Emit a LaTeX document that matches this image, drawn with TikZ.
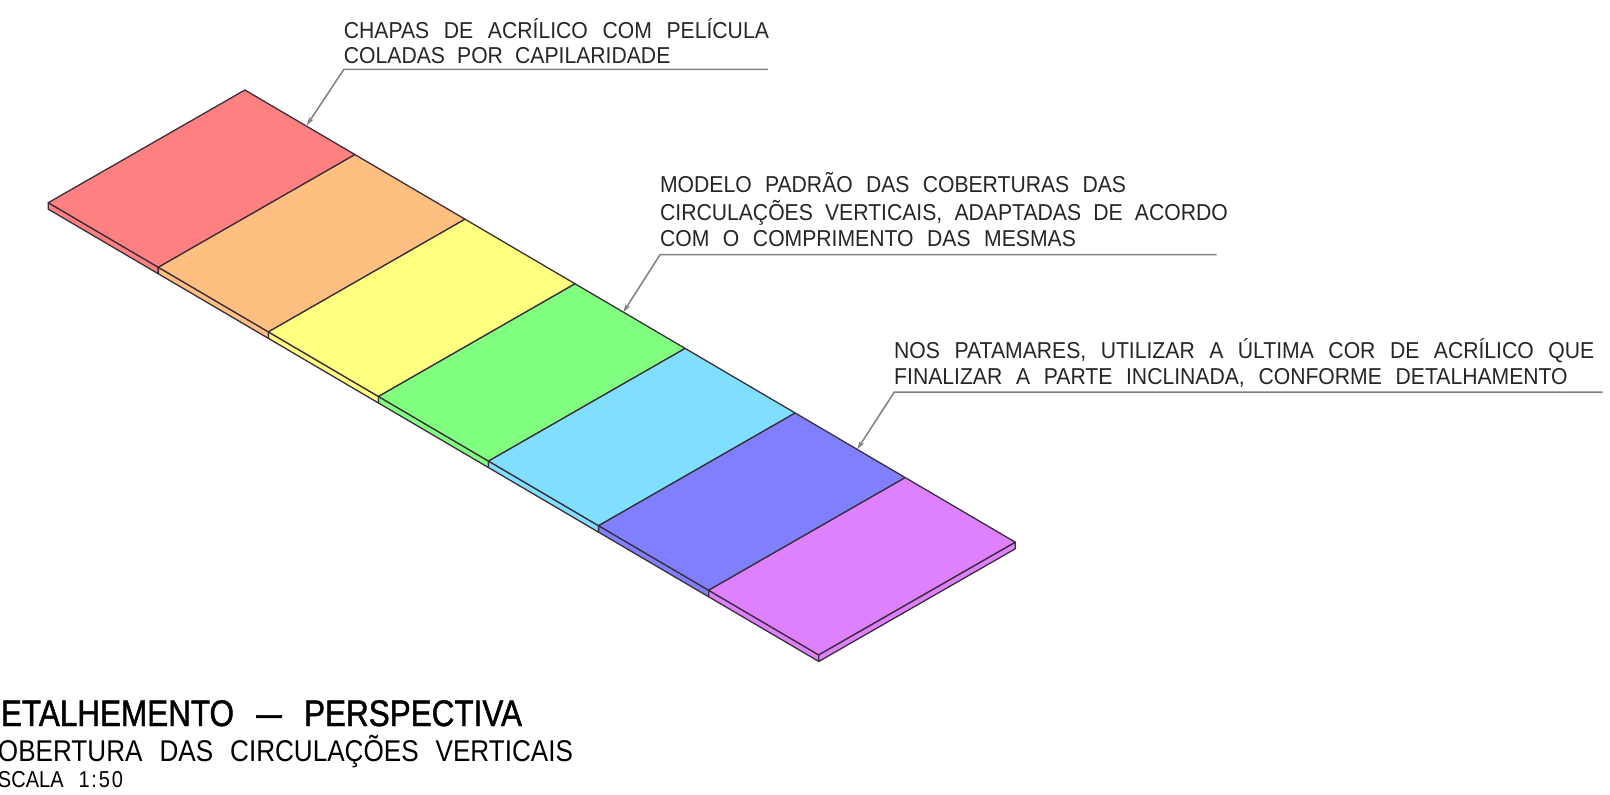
\documentclass[tikz,border=0pt]{standalone}
\usepackage{fontspec}
\setmainfont[FakeStretch=0.92]{Liberation Sans}
\newfontfamily\titlefont[FakeStretch=0.85,FakeBold=1.2]{Liberation Sans}
\newfontfamily\subfont[FakeStretch=0.87]{Liberation Sans}
\usetikzlibrary{arrows.meta,calc}
\hbadness=10000
\hfuzz=50pt
\definecolor{cRed}{HTML}{FF8080}
\definecolor{cOrange}{HTML}{FFBF80}
\definecolor{cYellow}{HTML}{FFFF80}
\definecolor{cGreen}{HTML}{80FF80}
\definecolor{cCyan}{HTML}{80DFFF}
\definecolor{cBlue}{HTML}{8080FF}
\definecolor{cViolet}{HTML}{DF80FF}
\definecolor{edgeink}{HTML}{3A2F3A}
\definecolor{leaderink}{HTML}{808080}
\tikzset{
  x=1pt,y=-1pt,
  face/.style={draw=edgeink,line width=1.3pt,line join=round},
  leader/.style={draw=leaderink,line width=1.5pt,line join=round,-{Stealth[length=9pt,width=5pt]}},
  note/.style={anchor=base west,inner sep=0pt,outer sep=0pt,font=\fontsize{23}{23}\selectfont,text=black!85},
  titleA/.style={anchor=base west,inner sep=0pt,outer sep=0pt,font=\titlefont\fontsize{37}{37}\selectfont},
  titleB/.style={anchor=base west,inner sep=0pt,outer sep=0pt,font=\subfont\fontsize{30}{30}\selectfont},
  titleC/.style={anchor=base west,inner sep=0pt,outer sep=0pt,font=\subfont\fontsize{23}{23}\selectfont},
}
\newcommand{\fitline}[2]{\makebox[#1pt][s]{#2}}
\begin{document}
\begin{tikzpicture}
\clip (0,0) rectangle (1610,795);
\fill[white] (0,0) rectangle (1610,795);
% panels
\foreach \i/\c in {0/cRed,1/cOrange,2/cYellow,3/cGreen,4/cCyan,5/cBlue,6/cViolet}{
  \pgfmathsetmacro{\xa}{48.3+110.06*\i}
  \pgfmathsetmacro{\ya}{202.7+64.6*\i}
  \pgfmathsetmacro{\xb}{\xa+110.06}
  \pgfmathsetmacro{\yb}{\ya+64.6}
  \filldraw[face,fill=\c] (\xa,\ya) -- (\xb,\yb) -- (\xb,\yb+6.5) -- (\xa,\ya+6.5) -- cycle;
  \filldraw[face,fill=\c] (\xa,\ya) -- (\xb,\yb) -- (\xb+196.6,\yb-112.7) -- (\xa+196.6,\ya-112.7) -- cycle;
}
\filldraw[face,fill=cViolet] (818.7,655) -- (1015.3,542.3) -- (1015.3,548.8) -- (818.7,661.5) -- cycle;
% leader ends
\coordinate (t1) at (306.6,125.6);
\coordinate (b1) at (343.9,69.3);
\coordinate (e1) at (767.9,69.3);
\coordinate (t2) at (623.2,312.4);
\coordinate (b2) at (660.1,254.6);
\coordinate (e2) at (1216.5,254.6);
\coordinate (t3) at (857.2,449.4);
\coordinate (b3) at (894.2,392.2);
\coordinate (e3) at (1602.6,392.2);
\draw[leader] (e1) -- (b1) -- (t1);
\draw[leader] (e2) -- (b2) -- (t2);
\draw[leader] (e3) -- (b3) -- (t3);
% notes
\node[note] (n1a) at (343.9,38) {\fitline{425}{CHAPAS DE ACRÍLICO COM PELÍCULA}};
\node[note] (n1b) at (343.9,63.5) {\fitline{326.5}{COLADAS POR CAPILARIDADE}};
\node[note] (n2a) at (660.1,192) {\fitline{466}{MODELO PADRÃO DAS COBERTURAS DAS}};
\node[note] (n2b) at (660.1,220.5) {\fitline{567.7}{CIRCULAÇÕES VERTICAIS, ADAPTADAS DE ACORDO}};
\node[note] (n2c) at (660.1,246.5) {\fitline{415.8}{COM O COMPRIMENTO DAS MESMAS}};
\node[note] (n3a) at (894.2,358) {\fitline{700}{NOS PATAMARES, UTILIZAR A ÚLTIMA COR DE ACRÍLICO QUE}};
\node[note] (n3b) at (894.2,384.5) {\fitline{673.5}{FINALIZAR A PARTE INCLINADA, CONFORME DETALHAMENTO}};
% title
\node[titleA] (ta) at (1,726) {\fitline{521}{ETALHEMENTO \scalebox{1.45}[1]{–} PERSPECTIVA}};
\node[titleB] (tb) at (-2,761) {\fitline{575}{OBERTURA DAS CIRCULAÇÕES VERTICAIS}};
\node[titleC] (tc) at (-2,787) {\fitline{125}{SCALA {\addfontfeature{LetterSpace=8}1:50}}};
\end{tikzpicture}
\end{document}
